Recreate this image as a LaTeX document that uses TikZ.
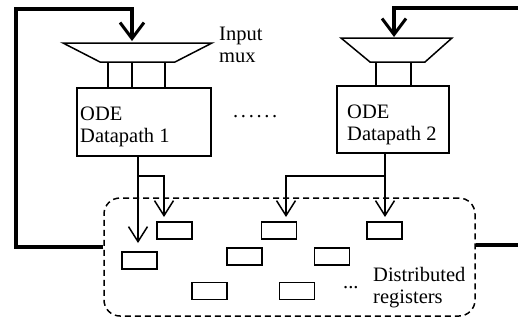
\documentclass[tikz,border=0pt]{standalone}
\usepackage{fontspec}
\setmainfont{Liberation Serif}
\usetikzlibrary{arrows.meta}
\begin{document}
\begin{tikzpicture}[x=1pt,y=-1pt,
  wire/.style={line width=1.5pt},
  fb/.style={line width=3.5pt, -{Straight Barb[length=16pt,width=24pt,line width=3pt]}},
  sig/.style={wire, -{Straight Barb[length=15pt,width=19pt]}},
  reg/.style={draw, line width=1.5pt, minimum width=35pt, minimum height=17pt, inner sep=0pt},
  dpbox/.style={draw, line width=1.5pt, inner sep=0pt},
  lbl/.style={font=\fontsize{20.5}{22}\selectfont, align=left, inner sep=0pt, anchor=base west},
  muxshape/.style={draw, line width=1.5pt}]

\useasboundingbox (0,0) rectangle (518,322);

% multiplexers
\draw[muxshape] (63,43) -- (212,43) -- (175,62) -- (100,62) -- cycle;
\draw[muxshape] (341,38) -- (452,38) -- (425,62) -- (370,62) -- cycle;
\coordinate (m1t) at (132,41);
\coordinate (m2t) at (394,37);

% datapaths
\node[dpbox, minimum width=134pt, minimum height=68pt] (dp1) at (144,122) {};
\node[dpbox, minimum width=112pt, minimum height=67pt] (dp2) at (393,119.5) {};

% mux to datapath wires
\coordinate (m1a) at (108,62);
\coordinate (m1b) at (132,62);
\coordinate (m1c) at (165,62);
\coordinate (m2a) at (376,62);
\coordinate (m2b) at (411,62);
\draw[wire] (m1a) -- (m1a |- dp1.north);
\draw[wire] (m1b) -- (m1b |- dp1.north);
\draw[wire] (m1c) -- (m1c |- dp1.north);
\draw[wire] (m2a) -- (m2a |- dp2.north);
\draw[wire] (m2b) -- (m2b |- dp2.north);

% distributed register region
\node[draw, line width=1.5pt, dash pattern=on 6pt off 4pt, rounded corners=16pt,
      minimum width=371pt, minimum height=118pt] (regs) at (289.5,257) {};

% registers
\node[reg] (r1) at (174.5,230.5) {};
\node[reg] (r2) at (139.5,260.5) {};
\node[reg] (r3) at (244.5,256.5) {};
\node[reg] (r4) at (209.5,291) {};
\node[reg] (r5) at (279,230.5) {};
\node[reg] (r6) at (384.5,230.5) {};
\node[reg] (r7) at (332,256.5) {};
\node[reg] (r8) at (297,291) {};

% datapath outputs
\coordinate (t1) at (138,243);
\coordinate (t2) at (164,217);
\coordinate (t3) at (286,217);
\coordinate (t4) at (385,217);
\coordinate (b1) at (138,176);
\coordinate (b2) at (385,176);
\draw[sig] (t1 |- dp1.south) -- (t1);
\draw[sig] (b1) -| (t2);
\draw[sig] (t4 |- dp2.south) -- (t4);
\draw[sig] (b2) -| (t3);

% feedback
\draw[fb] ([yshift=10pt]regs.west) -- (16,247) -- (16,9) -- (132,9) -- (m1t);
\draw[fb] ([yshift=12pt]regs.east) -- (530,245) -- (530,8) -- (394,8) -- (m2t);

% texts (anchored at the baseline of the last line)
\node[lbl] (dp1t) at (80,142) {ODE\\Datapath 1};
\node[lbl] (dp2t) at (347,140) {ODE\\Datapath 2};
\node[lbl] (inl) at (219,62.5) {Input\\mux};
\node[lbl] (dots) at (233,117) {\addfontfeature{LetterSpace=13}......};
\node[lbl] (rdots) at (343,288) {...};
\node[lbl] (rl) at (373,303) {Distributed\\registers};
\end{tikzpicture}
\end{document}
